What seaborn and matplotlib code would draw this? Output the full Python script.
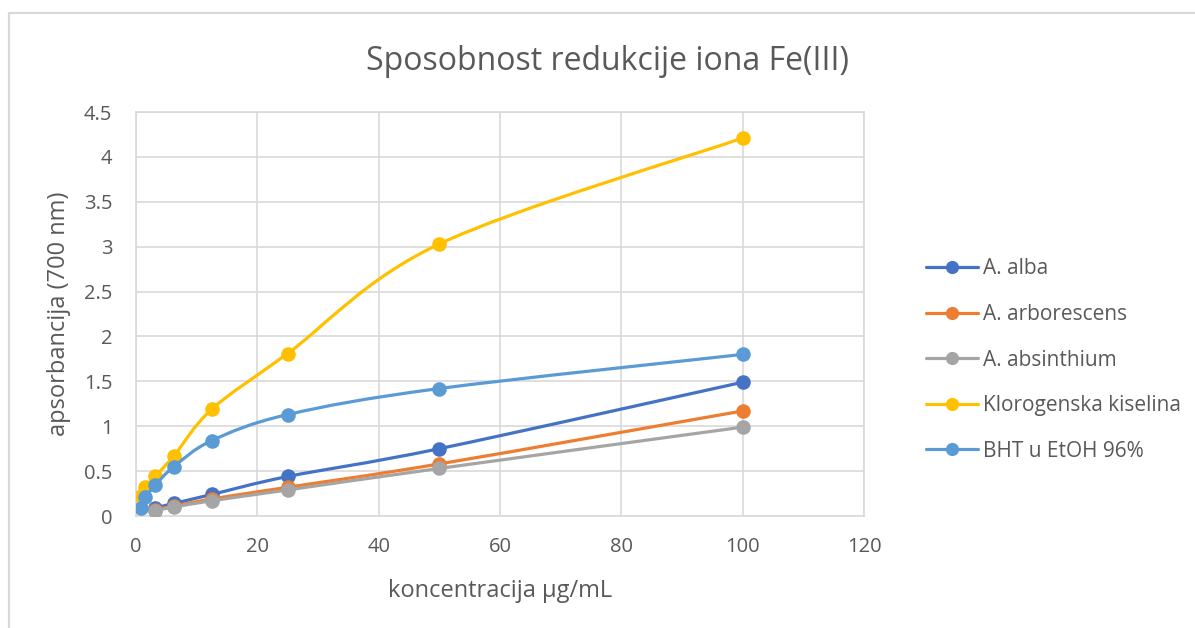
import numpy as np
import pandas as pd
import seaborn as sns
import matplotlib.pyplot as plt
from matplotlib.path import Path
from matplotlib.patches import PathPatch
from matplotlib.lines import Line2D

# Concentrations (ug/mL)
x_std = [0.78125, 1.5625, 3.125, 6.25, 12.5, 25, 50, 100]
x_ext = [3.125, 6.25, 12.5, 25, 50, 100]

# Absorbance at 700 nm
alba = [0.09, 0.14, 0.24, 0.44, 0.75, 1.49]
arborescens = [0.07, 0.11, 0.19, 0.32, 0.58, 1.17]
absinthium = [0.06, 0.10, 0.17, 0.29, 0.53, 0.99]
klorogenska = [0.22, 0.32, 0.44, 0.67, 1.19, 1.81, 3.03, 4.21]
bht = [0.09, 0.21, 0.34, 0.55, 0.84, 1.13, 1.42, 1.80]

names = ["A. alba", "A. arborescens", "A. absinthium",
         "Klorogenska kiselina", "BHT u EtOH 96%"]
colors = ["#4472C4", "#ED7D31", "#A5A5A5", "#FFC000", "#5B9BD5"]

series = [(x_ext, alba), (x_ext, arborescens), (x_ext, absinthium),
          (x_std, klorogenska), (x_std, bht)]

frames = []
for name, (xs, ys) in zip(names, series):
    frames.append(pd.DataFrame({"konc": xs, "aps": ys, "uzorak": name}))
df = pd.concat(frames, ignore_index=True)


def smooth_path(xs, ys):
    # Excel-like smoothed line (Catmull-Rom as cubic Bezier segments)
    pts = np.column_stack([xs, ys]).astype(float)
    n = len(pts)
    verts = [pts[0]]
    codes = [Path.MOVETO]
    for i in range(n - 1):
        p0 = pts[i - 1] if i > 0 else pts[i]
        p3 = pts[i + 2] if i + 2 < n else pts[i + 1]
        verts += [pts[i] + (pts[i + 1] - p0) / 6,
                  pts[i + 1] - (p3 - pts[i]) / 6,
                  pts[i + 1]]
        codes += [Path.CURVE4] * 3
    return Path(verts, codes)


sns.set_style("white")
plt.rcParams["font.family"] = ["Open Sans", "DejaVu Sans"]
text_col = "#595959"
grid_col = "#d9d9d9"

fig = plt.figure(figsize=(11.95, 6.28), dpi=100)
ax = fig.add_axes([136 / 1195, 1 - 516 / 628, (864 - 136) / 1195, (516 - 112) / 628])

for k, name in enumerate(names):
    sub = df[df["uzorak"] == name]
    ax.add_patch(PathPatch(smooth_path(sub["konc"], sub["aps"]), facecolor="none",
                           edgecolor=colors[k], lw=2.3, zorder=3 + 2 * k,
                           capstyle="round", joinstyle="round"))
    sns.scatterplot(data=sub, x="konc", y="aps", color=colors[k], s=110,
                    linewidth=0, ax=ax, zorder=4 + 2 * k, legend=False)

ax.set_xlim(0, 120)
ax.set_ylim(0, 4.5)
ax.set_xticks(np.arange(0, 121, 20))
ax.set_yticks(np.arange(0, 4.51, 0.5))
ax.set_yticklabels(["0", "0.5", "1", "1.5", "2", "2.5", "3", "3.5", "4", "4.5"])
ax.grid(True, color=grid_col, lw=1.2)
ax.set_axisbelow(True)
for s in ax.spines.values():
    s.set_color(grid_col)
    s.set_linewidth(1.2)
ax.tick_params(length=0, labelsize=14.5, labelcolor=text_col)
ax.tick_params(axis="x", pad=15)
ax.tick_params(axis="y", pad=17)

ax.set_xlabel("koncentracija µg/mL", fontsize=17, color=text_col, labelpad=16)
ax.set_ylabel("apsorbancija (700 nm)", fontsize=17, color=text_col, labelpad=9)

fig.text(0.508, 1 - 61 / 628, "Sposobnost redukcije iona Fe(III)", ha="center",
         va="center", fontsize=23, color=text_col)

handles = [Line2D([], [], color=c, lw=2.3, marker="o", markersize=9.5,
                  markeredgewidth=0) for c in colors]
fig.legend(handles, names, loc="center left", bbox_to_anchor=(907 / 1195, 1 - 360 / 628),
           frameon=False, fontsize=15, labelcolor=text_col, handlelength=2.5,
           handletextpad=0.25, labelspacing=1.18)

# light frame of the chart area
fig.add_artist(Line2D([9 / 1195, 1], [1 - 13 / 628] * 2, transform=fig.transFigure,
                      color=grid_col, lw=1.6))
fig.add_artist(Line2D([9 / 1195] * 2, [0, 1 - 13 / 628], transform=fig.transFigure,
                      color=grid_col, lw=1.6))

fig.savefig("out.png", dpi=100)
